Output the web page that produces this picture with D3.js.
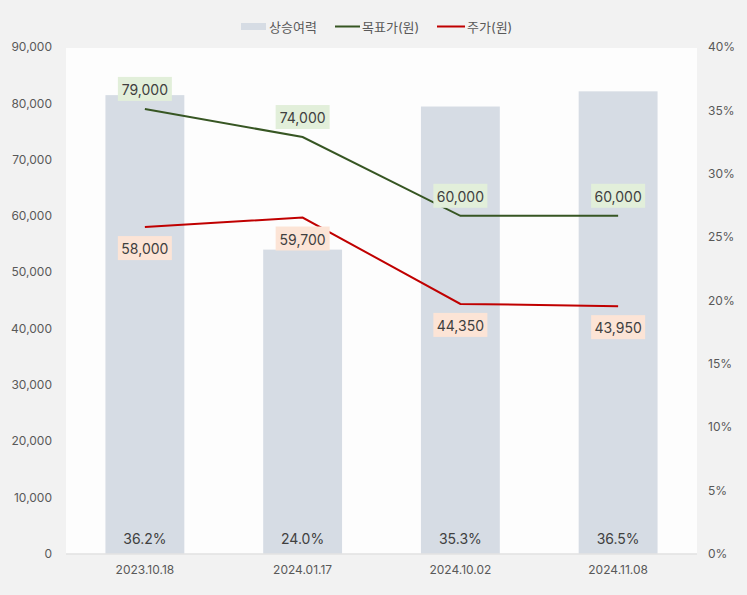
<!DOCTYPE html>
<html><head><meta charset="utf-8">
<script src="https://cdn.jsdelivr.net/npm/d3@7"></script>
<style>
html,body{margin:0;padding:0;background:#f2f2f2;}
text{font-family:Inter,"Noto Sans CJK KR","Noto Sans",sans-serif;}
</style></head>
<body>
<svg id="c" width="747" height="595"></svg>
<script>
const categories = ["2023.10.18","2024.01.17","2024.10.02","2024.11.08"];
const upside = [36.2, 24.0, 35.3, 36.5];
const target = [79000, 74000, 60000, 60000];
const price = [58000, 59700, 44350, 43950];
const leftTicks = [0,10000,20000,30000,40000,50000,60000,70000,80000,90000];
const rightTicks = [0,5,10,15,20,25,30,35,40];
const seriesNames = ["상승여력","목표가(원)","주가(원)"];

const svg = d3.select("#c");
svg.append("rect").attr("width",747).attr("height",595).attr("fill","#f2f2f2");
const L=66, R=697, T=48, B=553.5;
svg.append("rect").attr("x",L).attr("y",T).attr("width",R-L).attr("height",B-T).attr("fill","#fdfdfd");

const x = d3.scaleBand().domain(categories).range([L,R]).paddingInner(0.5).paddingOuter(0.25);
const yL = d3.scaleLinear().domain([0,90000]).range([B,T-1]);
const yR = d3.scaleLinear().domain([0,40]).range([B,T-1]);
const cx = c => x(c)+x.bandwidth()/2;

// bars
svg.selectAll(".bar").data(categories).enter().append("rect")
 .attr("x",d=>x(d)).attr("width",x.bandwidth())
 .attr("y",(d,i)=>yR(upside[i])).attr("height",(d,i)=>B-yR(upside[i]))
 .attr("fill","#d6dce4");

// baseline
svg.append("line").attr("x1",L).attr("x2",R).attr("y1",B+0.5).attr("y2",B+0.5).attr("stroke","#d9d9d9");

// axes
const axL = d3.axisLeft(yL).tickValues(leftTicks).tickFormat(d3.format(",")).tickSize(0).tickPadding(0);
const gL = svg.append("g").attr("transform",`translate(${L-14},0)`).call(axL);
const axR = d3.axisRight(yR).tickValues(rightTicks).tickFormat(d=>d+"%").tickSize(0).tickPadding(0);
const gR = svg.append("g").attr("transform",`translate(${R+11},0)`).call(axR);
const axB = d3.axisBottom(x).tickSize(0).tickPadding(0);
const gB = svg.append("g").attr("transform",`translate(0,${B+10})`).call(axB);
[gL,gR,gB].forEach(g=>{g.select(".domain").remove();g.selectAll("text").attr("fill","#595959").style("font-size","12px").style("font-family","Inter,'Noto Sans CJK KR',sans-serif");});
gB.selectAll("text").attr("dy","0.9em");

// bar labels
svg.selectAll(".bl").data(categories).enter().append("text")
 .attr("x",d=>cx(d)).attr("y",B-15).attr("text-anchor","middle").attr("dominant-baseline","central")
 .attr("fill","#404040").style("font-size","14px").text((d,i)=>upside[i].toFixed(1)+"%");

// lines
const line = d3.line().x((d,i)=>cx(categories[i])).y(d=>yL(d));
svg.append("path").datum(target).attr("d",line).attr("fill","none").attr("stroke","#375623").attr("stroke-width",2);
svg.append("path").datum(price).attr("d",line).attr("fill","none").attr("stroke","#c00000").attr("stroke-width",2);

// data labels
function labels(vals, off, bg){
  vals.forEach((v,i)=>{
    const px=cx(categories[i]), py=yL(v)+off;
    svg.append("rect").attr("x",px-27).attr("y",py-12).attr("width",54).attr("height",24).attr("fill",bg);
    svg.append("text").attr("x",px).attr("y",py+0.5).attr("text-anchor","middle").attr("dominant-baseline","central")
      .attr("fill","#404040").style("font-size","14px").text(d3.format(",")(v));
  });
}
labels(target,-20,"#e2efda");
labels(price,21,"#fce4d6");

// legend
const lg = svg.append("g");
lg.append("rect").attr("x",241).attr("y",23).attr("width",25).attr("height",7).attr("fill","#d6dce4");
lg.append("text").attr("x",269).attr("y",26.5).attr("dominant-baseline","central").attr("fill","#595959").style("font-size","13px").text(seriesNames[0]);
lg.append("line").attr("x1",335).attr("x2",360).attr("y1",26.5).attr("y2",26.5).attr("stroke","#375623").attr("stroke-width",2);
lg.append("text").attr("x",362).attr("y",26.5).attr("dominant-baseline","central").attr("fill","#595959").style("font-size","13px").text(seriesNames[1]);
lg.append("line").attr("x1",437).attr("x2",465).attr("y1",26.5).attr("y2",26.5).attr("stroke","#c00000").attr("stroke-width",2);
lg.append("text").attr("x",467).attr("y",26.5).attr("dominant-baseline","central").attr("fill","#595959").style("font-size","13px").text(seriesNames[2]);
</script>
</body></html>
